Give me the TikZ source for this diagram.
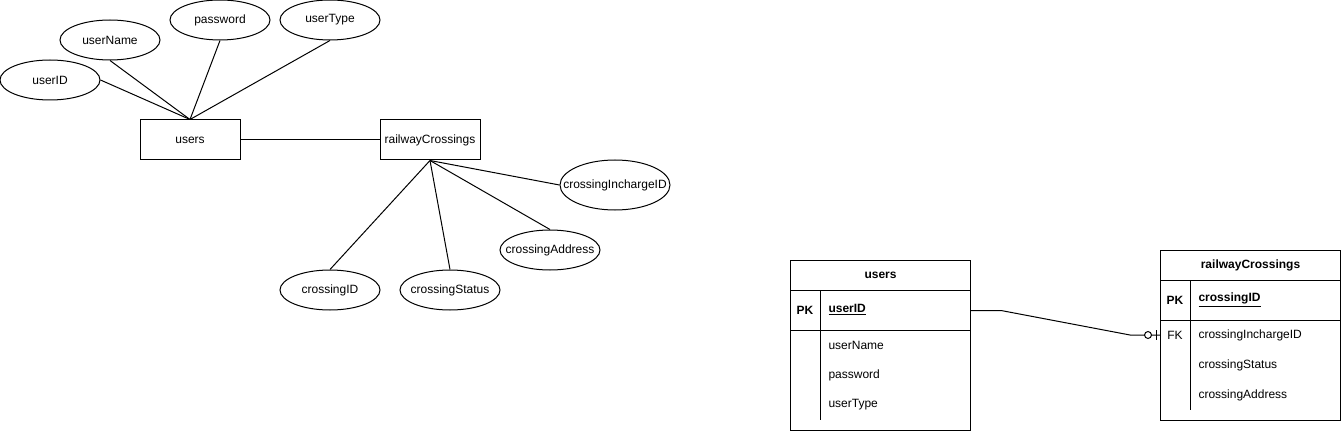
\documentclass[tikz,border=0pt]{standalone}
\usepackage{fontspec}
\setmainfont{Liberation Sans}
\usetikzlibrary{shapes.geometric,positioning}

\tikzset{
  entity/.style={draw, rectangle, minimum width=75pt, minimum height=30pt, inner sep=0pt},
  attr/.style={draw, ellipse, minimum width=75pt, minimum height=30pt, inner sep=0pt},
  tbl/.style={draw, rectangle, minimum width=135pt, inner sep=0pt, anchor=north west},
  cell/.style={anchor=west, inner sep=0pt},
  key/.style={inner sep=0pt, font=\fontsize{9pt}{11pt}\selectfont\bfseries}
}

\begin{document}
\begin{tikzpicture}[x=0.75pt, y=-0.75pt, line width=0.75pt,
    font=\fontsize{9pt}{11pt}\selectfont]
  \useasboundingbox (0,0) rectangle (1341,431);

  % conceptual ER model
  \node [entity] (users) at (190,140) {users};
  \node [entity] (railwayCrossings) at (430,140) {railwayCrossings};
  \node [attr, label=center:userID] (userID) at (50,80) {};
  \node [attr, label=center:userName] (userName) at (110,40) {};
  \node [attr, label=center:password] (password) at (220,20) {};
  \node [attr, label=center:userType] (userType) at (330,20) {};
  \node [attr, minimum width=82.5pt, minimum height=37.5pt, label=center:crossingInchargeID] (crossingInchargeID) at (615,185) {};
  \node [attr, label=center:crossingAddress] (crossingAddress) at (550,250) {};
  \node [attr, label=center:crossingStatus] (crossingStatus) at (450,290) {};
  \node [attr, label=center:crossingID] (crossingID) at (330,290) {};
  \draw (userID.east) -- (users.north);
  \draw (userName.south) -- (users.north);
  \draw (password.south) -- (users.north);
  \draw (userType.south) -- (users.north);
  \draw (users) -- (railwayCrossings);
  \draw (railwayCrossings.south) -- (crossingID.north);
  \draw (railwayCrossings.south) -- (crossingStatus.north);
  \draw (railwayCrossings.south) -- (crossingAddress.north);
  \draw (railwayCrossings.south) -- (crossingInchargeID.west);

  % users table
  \node [tbl, minimum height=22.5pt, font=\fontsize{9pt}{11pt}\selectfont\bfseries] (t_users) at (790,260) {users};
  \node [tbl, minimum height=30pt] (t_users_pk) at (790,290) {};
  \node [tbl, minimum height=75pt] (t_users_body) at (790,330) {};
  \draw ([xshift=22.5pt]t_users_pk.north west) -- ([xshift=22.5pt]t_users_pk.south west);
  \draw ([xshift=22.5pt]t_users_body.north west) -- ++(0,90);
  \node [key] (users_pk) at (805,310) {PK};
  \node [cell, font=\fontsize{9pt}{11pt}\selectfont\bfseries] (users_userID) at (828,310) {\underline{userID}};
  \node [cell] (users_userName) at (828,345) {userName};
  \node [cell] (users_password) at (828,375) {password};
  \node [cell] (users_userType) at (828,405) {userType};

  % railwayCrossings table
  \node [tbl, minimum height=22.5pt, font=\fontsize{9pt}{11pt}\selectfont\bfseries] (t_rc) at (1160,250) {railwayCrossings};
  \node [tbl, minimum height=30pt] (t_rc_pk) at (1160,280) {};
  \node [tbl, minimum height=75pt] (t_rc_body) at (1160,320) {};
  \draw ([xshift=22.5pt]t_rc_pk.north west) -- ([xshift=22.5pt]t_rc_pk.south west);
  \draw ([xshift=22.5pt]t_rc_body.north west) -- ++(0,90);
  \node [key] (rc_pk) at (1175,300) {PK};
  \node [cell, font=\fontsize{9pt}{11pt}\selectfont\bfseries] (rc_crossingID) at (1198,300) {\underline{crossingID}};
  \node [inner sep=0pt] (rc_fk) at (1175,335) {FK};
  \node [cell] (rc_crossingInchargeID) at (1198,335) {crossingInchargeID};
  \node [cell] (rc_crossingStatus) at (1198,365) {crossingStatus};
  \node [cell] (rc_crossingAddress) at (1198,395) {crossingAddress};

  % relationship: zero or one
  \coordinate (fk_end) at (t_rc_body.west |- rc_fk);
  \draw (t_users_pk.east) -- ++(30,0) -- ([xshift=-22.5pt]fk_end) -- (fk_end);
  \draw [fill=white] ([xshift=-9pt]fk_end) circle (2.6pt);
  \draw ([xshift=-2.6pt,yshift=3.75pt]fk_end) -- ([xshift=-2.6pt,yshift=-3.75pt]fk_end);
\end{tikzpicture}
\end{document}
